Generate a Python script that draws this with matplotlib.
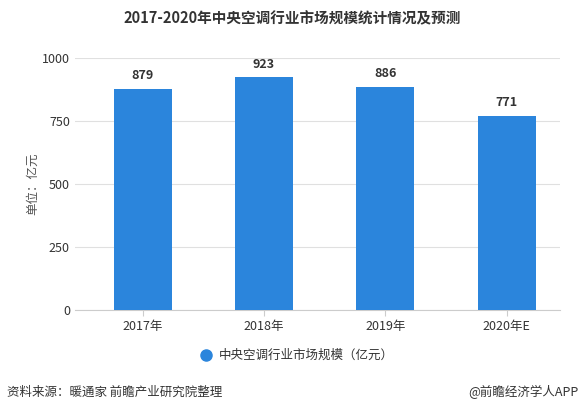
import matplotlib.pyplot as plt

plt.rcParams['font.family'] = ['Noto Sans CJK SC', 'DejaVu Sans']

years = ['2017年', '2018年', '2019年', '2020年E']
values = [879, 923, 886, 771]

fig = plt.figure(figsize=(5.84, 4.12), dpi=100)
ax = fig.add_axes([0.128, 0.248, 0.831, 0.611])

x = range(len(years))
ax.bar(x, values, width=0.48, color='#2B85DC', zorder=3)
for i, v in zip(x, values):
    ax.text(i, v + 25, str(v), ha='center', va='bottom', fontsize=9, fontweight='bold', color='#333333')

ax.set_xlim(-0.56, 3.44)
ax.set_ylim(0, 1000)
ax.set_yticks([0, 250, 500, 750, 1000])
ax.set_xticks(list(x))
ax.set_xticklabels(years)
ax.tick_params(axis='both', labelsize=9, colors='#333333', length=0)
ax.tick_params(axis='x', length=4, color='#cccccc')
ax.grid(axis='y', color='#e0e0e0', linewidth=0.8, zorder=0)
for s in ['top', 'right', 'left']:
    ax.spines[s].set_visible(False)
ax.spines['bottom'].set_color('#cccccc')
ax.set_ylabel('单位：亿元', fontsize=9, color='#555555', labelpad=2)

fig.text(0.5, 0.955, '2017-2020年中央空调行业市场规模统计情况及预测', ha='center', va='center',
         fontsize=10.5, fontweight='bold', color='#333333')

fig.lines.append(plt.Line2D([0.352], [0.138], marker='o', markersize=8, color='#2B85DC',
                            transform=fig.transFigure))
fig.text(0.375, 0.138, '中央空调行业市场规模（亿元）', ha='left', va='center', fontsize=9, color='#333333')

fig.text(0.012, 0.048, '资料来源：暖通家 前瞻产业研究院整理', ha='left', va='center', fontsize=9, color='#333333')
fig.text(0.99, 0.048, '@前瞻经济学人APP', ha='right', va='center', fontsize=9, color='#333333')

fig.savefig('out.png', dpi=100)
